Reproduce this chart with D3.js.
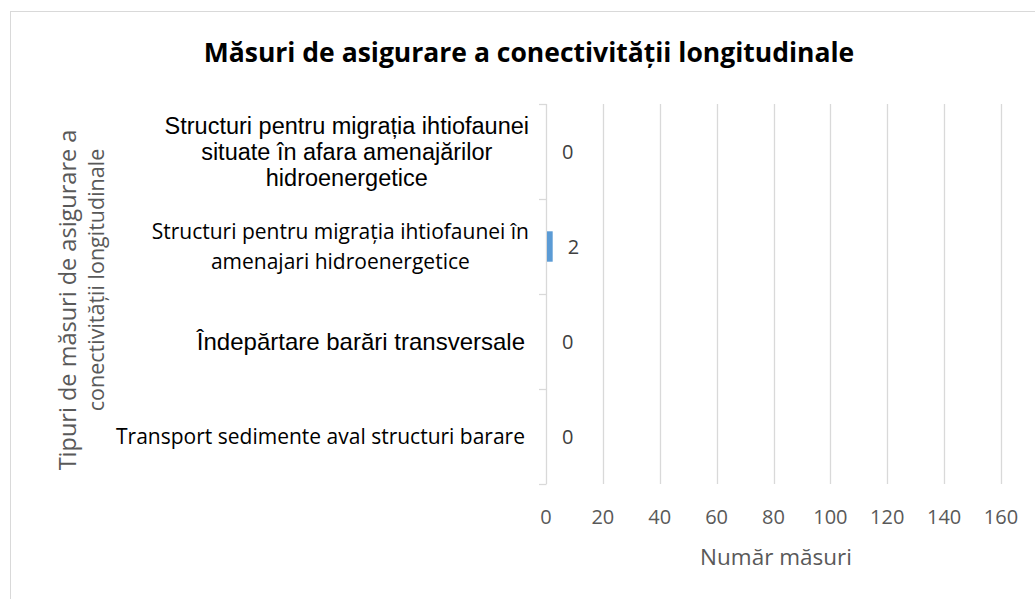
<!DOCTYPE html>
<html><head><meta charset="utf-8">
<script src="https://cdn.jsdelivr.net/npm/d3@7"></script>
<style>body{margin:0;background:#fff}svg{display:block}</style>
</head><body>
<svg id="c" width="1035" height="599"></svg>
<script>
const categories = [
  "Structuri pentru migrația ihtiofaunei situate în afara amenajărilor hidroenergetice",
  "Structuri pentru migrația ihtiofaunei în amenajari hidroenergetice",
  "Îndepărtare barări transversale",
  "Transport sedimente aval structuri barare"
];
const categoryLines = [
  ["Structuri pentru migrația ihtiofaunei", "situate în afara amenajărilor", "hidroenergetice"],
  ["Structuri pentru migrația ihtiofaunei în", "amenajari hidroenergetice"],
  ["Îndepărtare barări transversale"],
  ["Transport sedimente aval structuri barare"]
];
const values = [0, 2, 0, 0];
const xTicks = [0, 20, 40, 60, 80, 100, 120, 140, 160];
const title = "Măsuri de asigurare a conectivității longitudinale";
const xTitle = "Număr măsuri";
const yTitleLines = ["Tipuri de măsuri de asigurare a", "conectivității longitudinale"];

const svg = d3.select("#c");
const calibri = "'Open Sans', sans-serif";
const arial = "'Liberation Sans', Arial, sans-serif";

// chart border
svg.append("rect").attr("x", 10.5).attr("y", 11.5).attr("width", 1040).attr("height", 600)
  .attr("fill", "#fff").attr("stroke", "#d9d9d9").attr("stroke-width", 1);

const x = d3.scaleLinear().domain([0, 160]).range([546, 1001]);
const y = d3.scaleBand().domain(categories).range([104, 484]).paddingInner(0.68).paddingOuter(0.34);
const yStep = (484 - 104) / categories.length;

// gridlines
svg.append("g").selectAll("line").data(xTicks.slice(1)).join("line")
  .attr("x1", d => Math.round(x(d)) + 0.5).attr("x2", d => Math.round(x(d)) + 0.5)
  .attr("y1", 104).attr("y2", 484).attr("stroke", "#d9d9d9").attr("stroke-width", 1.3);

// y axis line with ticks between categories
svg.append("line").attr("x1", 546.5).attr("x2", 546.5).attr("y1", 104).attr("y2", 484)
  .attr("stroke", "#d9d9d9").attr("stroke-width", 1.3);
const bounds = d3.range(categories.length + 1).map(i => 104 + i * yStep);
svg.append("g").selectAll("line").data(bounds).join("line")
  .attr("x1", 539).attr("x2", 546.5)
  .attr("y1", d => Math.round(d) + 0.5).attr("y2", d => Math.round(d) + 0.5)
  .attr("stroke", "#d9d9d9").attr("stroke-width", 1.3);

// bars
svg.append("g").selectAll("rect").data(values).join("rect")
  .attr("x", x(0) + 1).attr("y", (d, i) => y(categories[i]))
  .attr("width", d => Math.max(0, x(d) - x(0)))
  .attr("height", y.bandwidth()).attr("fill", "#5b9bd5");

// data labels
svg.append("g").selectAll("text").data(values).join("text")
  .attr("x", d => x(d) + 16).attr("y", (d, i) => y(categories[i]) + y.bandwidth() / 2)
  .attr("dy", "0.35em").attr("font-family", calibri).attr("font-size", 20)
  .attr("fill", "#404040").text(d => d);

// x tick labels
svg.append("g").selectAll("text").data(xTicks).join("text")
  .attr("x", d => x(d)).attr("y", 517).attr("dy", "0.35em").attr("text-anchor", "middle")
  .attr("font-family", calibri).attr("font-size", 20).attr("fill", "#595959").text(d => d);

// category labels
const catStyle = [
  {font: arial, size: 23.5, lh: 26, right: 529},
  {font: calibri, size: 21, lh: 30, right: 529},
  {font: arial, size: 24, lh: 26, right: 525},
  {font: calibri, size: 21, lh: 26, right: 525}
];
categoryLines.forEach((lines, i) => {
  const st = catStyle[i];
  const cy = y(categories[i]) + y.bandwidth() / 2;
  const t = svg.append("text").attr("font-family", st.font).attr("font-size", st.size)
    .attr("fill", "#000").attr("text-anchor", "middle");
  const n = lines.length;
  const tmp = svg.append("text").attr("font-family", st.font).attr("font-size", st.size);
  let maxW = 0;
  lines.forEach(l => { tmp.text(l); maxW = Math.max(maxW, tmp.node().getComputedTextLength()); });
  tmp.remove();
  const cx = st.right - maxW / 2;
  lines.forEach((l, j) => {
    t.append("tspan").attr("x", cx).attr("y", cy + (j - (n - 1) / 2) * st.lh).attr("dy", "0.35em").text(l);
  });
});

// title
svg.append("text").attr("x", 529).attr("y", 53).attr("dy", "0.35em").attr("text-anchor", "middle")
  .attr("font-family", calibri).attr("font-weight", "bold").attr("font-size", 26.5)
  .attr("fill", "#000").text(title);

// x axis title
svg.append("text").attr("x", 776).attr("y", 557).attr("dy", "0.35em").attr("text-anchor", "middle")
  .attr("font-family", calibri).attr("font-size", 22.5).attr("fill", "#595959").text(xTitle);

// y axis title (each line centred on its own position, as in the reference)
const yTitlePos = [{x: 68, y: 300, s: 23.5}, {x: 96, y: 280, s: 21.5}];
yTitleLines.forEach((l, j) => {
  svg.append("text").attr("transform", `translate(${yTitlePos[j].x},${yTitlePos[j].y}) rotate(-90)`)
    .attr("text-anchor", "middle").attr("dy", "0.35em").attr("font-family", calibri)
    .attr("font-size", yTitlePos[j].s).attr("fill", "#595959").text(l);
});
</script>
</body></html>
